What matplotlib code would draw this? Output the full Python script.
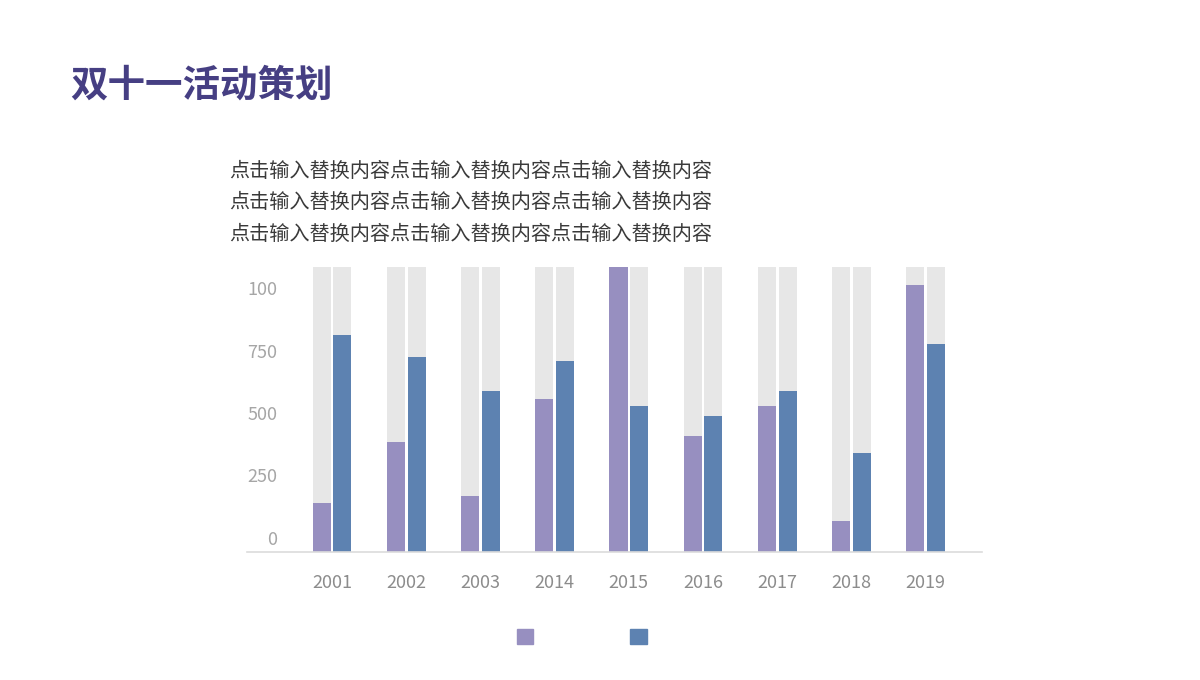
import matplotlib
matplotlib.use('Agg')
import matplotlib.pyplot as plt
import matplotlib.transforms as mtransforms
from matplotlib.patches import Patch
import numpy as np

plt.rcParams['font.family'] = ['Noto Sans CJK SC', 'DejaVu Sans']

years   = ['2001', '2002', '2003', '2014', '2015', '2016', '2017', '2018', '2019']
series1 = [196, 440, 224, 612, 1140, 465, 584, 124, 1068]
series2 = [868, 781, 644, 764, 584, 545, 644, 397, 831]
full    = 1140
yticks  = [0, 250, 500, 750, 1000]
ylabels = ['0', '250', '500', '750', '100']
title   = '双十一活动策划'
body    = ['点击输入替换内容点击输入替换内容点击输入替换内容'] * 3

c1   = '#978fc0'
c2   = '#5d82b1'
grey = '#e7e7e7'

fig = plt.figure(figsize=(12, 6.8), dpi=100)
ax = fig.add_axes([247 / 1200, 128 / 680, 735 / 1200, 285 / 680])

x = np.arange(len(years))
w = 0.243
off = 0.139
ax.bar(x - off, [full] * len(x), w, color=grey, zorder=1)
ax.bar(x + off, [full] * len(x), w, color=grey, zorder=1)
ax.bar(x - off, series1, w, color=c1, zorder=2)
ax.bar(x + off, series2, w, color=c2, zorder=2)

ax.set_xlim(-1.146, 8.76)
ax.set_ylim(0, full)
ax.set_xticks(x)
ax.set_xticklabels(years, fontsize=13, color='#8c8c8c')
ax.set_yticks(yticks)
ax.set_yticklabels(ylabels, fontsize=13, color='#a6a6a6')
ax.tick_params(axis='both', length=0)
ax.tick_params(axis='x', pad=16)
ax.tick_params(axis='y', pad=-22)
# labels sit a little above their gridline positions in the original
shift = mtransforms.ScaledTranslation(0, 14 / 100, fig.dpi_scale_trans)
for lab in ax.get_yticklabels():
    lab.set_transform(lab.get_transform() + shift)

for s in ['top', 'right', 'left']:
    ax.spines[s].set_visible(False)
ax.spines['bottom'].set_color('#dcdcdc')
ax.spines['bottom'].set_linewidth(1.2)
ax.spines['bottom'].set_zorder(5)

fig.text(70 / 1200, 1 - 85 / 680, title, fontsize=27, fontweight='bold',
         color='#463f83', va='center', ha='left')
for i, line in enumerate(body):
    fig.text(229 / 1200, 1 - (171 + i * 31.5) / 680, line, fontsize=14.5,
             fontweight='light', color='#3a3a3a', va='center', ha='left')

handles = [Patch(color=c1), Patch(color=c2)]
fig.legend(handles, [' ', ' '], ncol=2, loc='center',
           bbox_to_anchor=(587 / 1200, 1 - 638 / 680), frameon=False,
           fontsize=12, handlelength=1.0, handleheight=1.0,
           handletextpad=0.4, columnspacing=5.2)

fig.savefig('out.png', dpi=100)
